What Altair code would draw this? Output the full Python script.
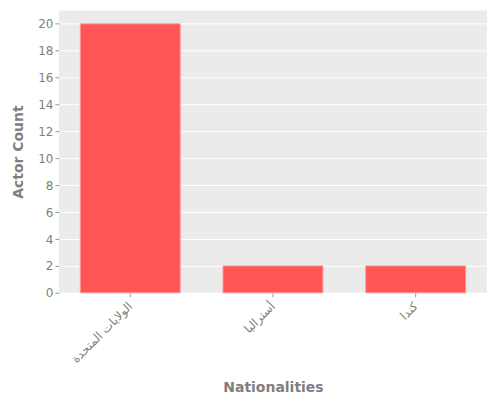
import altair as alt
import pandas as pd

nationalities = ["الولايات المتحدة", "أستراليا", "كندا"]
counts = [20, 2, 2]

df = pd.DataFrame({"Nationalities": nationalities, "Actor Count": counts})

chart = alt.Chart(df).mark_bar(color="#FF5555", stroke="#FF9999", strokeWidth=1).encode(
    x=alt.X("Nationalities:N", sort=nationalities,
            scale=alt.Scale(paddingInner=0.3, paddingOuter=0.15),
            axis=alt.Axis(labelAngle=-45, labelAlign="right", labelBaseline="middle",
                          labelFontSize=12, labelColor="#7f7f7f", tickColor="#999999",
                          tickSize=4, domain=False, grid=False, titlePadding=16,
                          titleFontSize=14, titleColor="#7f7f7f", titleFontWeight="bold",
                          labelPadding=7)),
    y=alt.Y("Actor Count:Q", scale=alt.Scale(domain=[0, 21], nice=False),
            axis=alt.Axis(values=list(range(0, 21, 2)), labelFontSize=12,
                          labelColor="#7f7f7f", tickColor="#999999", tickSize=4,
                          domain=False, gridColor="white", gridWidth=1,
                          titleFontSize=14, titleColor="#7f7f7f", titleFontWeight="bold",
                          titlePadding=12)),
).properties(
    width=429, height=283, padding={"top": 2, "left": 3, "right": 5, "bottom": 5}
).configure(font="DejaVu Sans").configure_view(fill="#EBEBEB", stroke=None)

chart.save("out.html", embed_options={"renderer": "svg", "actions": False})
